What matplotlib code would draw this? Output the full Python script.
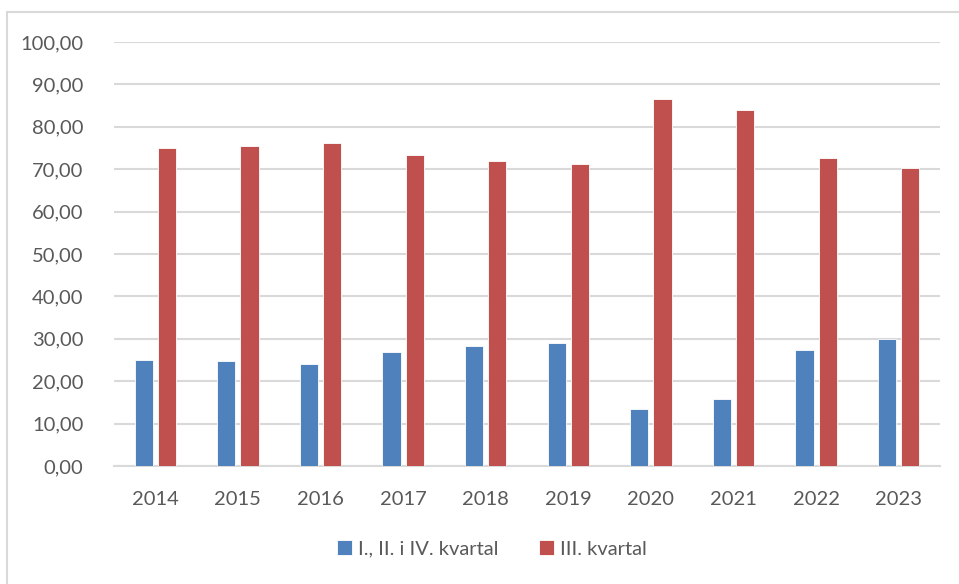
#!/usr/bin/env python3
"""Quarterly share bar chart, 2014-2023."""

import matplotlib
matplotlib.use('Agg')
import matplotlib.pyplot as plt
from matplotlib.patches import Rectangle
from matplotlib.ticker import FuncFormatter
import numpy as np

years = ['2014', '2015', '2016', '2017', '2018', '2019', '2020', '2021', '2022', '2023']
q124 = [25.0, 24.7, 24.1, 26.8, 28.4, 28.9, 13.5, 15.9, 27.4, 29.9]
q3 = [74.9, 75.5, 76.1, 73.4, 71.9, 71.2, 86.6, 84.0, 72.7, 70.3]
series_names = ['I., II. i IV. kvartal', 'III. kvartal']

BLUE = '#4f81bd'
RED = '#c0504d'
GRID = '#d9d9d9'
TXT = '#595959'

plt.rcParams['font.family'] = ['Lato', 'DejaVu Sans']

W, H = 959, 584
fig = plt.figure(figsize=(W / 100, H / 100), dpi=100)
fig.patch.set_facecolor('white')

# outer chart frame (left + top visible)
fig.patches.append(Rectangle((7 / W, 0 - 0.01), 1.2, (H - 12) / H + 0.01,
                             transform=fig.transFigure, fill=False,
                             edgecolor=GRID, linewidth=1.5))

ax = fig.add_axes([114 / W, (H - 466) / H, (940 - 114) / W, (466 - 42) / H])
x = np.arange(len(years))
w = 0.22
ax.bar(x - 0.14, q124, w, color=BLUE, edgecolor='white', linewidth=0.6,
       label=series_names[0], zorder=3)
ax.bar(x + 0.14, q3, w, color=RED, edgecolor='white', linewidth=0.6,
       label=series_names[1], zorder=3)

ax.set_xlim(-0.5, len(years) - 0.5)
ax.set_ylim(0, 100)
ax.set_yticks(np.arange(0, 101, 10))
ax.yaxis.set_major_formatter(FuncFormatter(lambda v, p: f'{v:.2f}'.replace('.', ',')))
ax.set_xticks(x)
ax.set_xticklabels(years)

ax.grid(axis='y', color=GRID, linewidth=1.5, zorder=0)
for s in ['top', 'right', 'left']:
    ax.spines[s].set_visible(False)
ax.spines['bottom'].set_color(GRID)
ax.spines['bottom'].set_linewidth(1.5)
ax.tick_params(axis='both', length=0, labelsize=14.5, colors=TXT)
ax.tick_params(axis='y', pad=22)
ax.tick_params(axis='x', pad=18)

leg = fig.legend(loc='center', bbox_to_anchor=(492 / W, (H - 549) / H), ncol=2,
                 frameon=False, fontsize=14.5, handlelength=0.75, handleheight=0.75,
                 handletextpad=0.3, columnspacing=2.0)
for t in leg.get_texts():
    t.set_color(TXT)

fig.savefig('out.png', dpi=100, facecolor='white')
plt.close()
